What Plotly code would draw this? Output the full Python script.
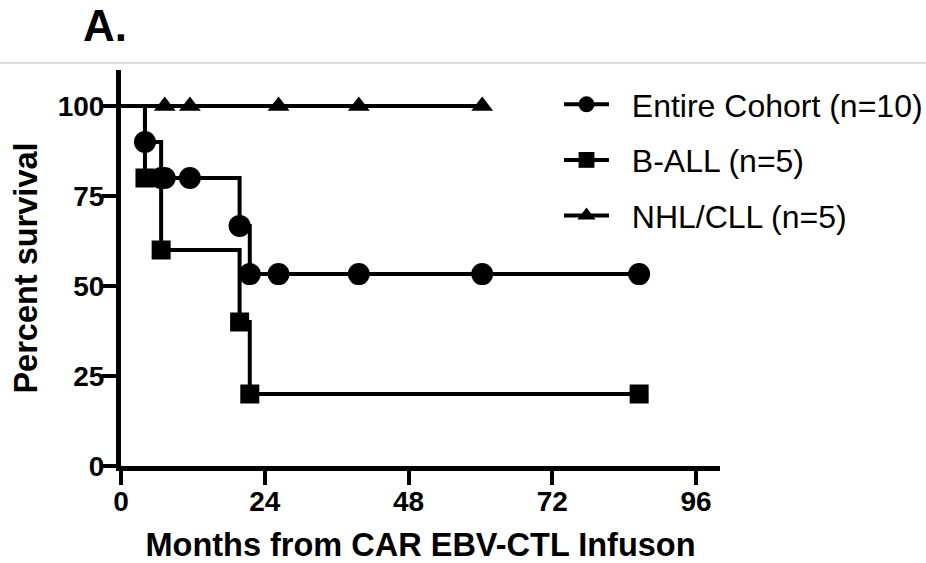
import plotly.graph_objects as go

# ---- data ----
entire_months = [0, 4, 6.7, 7.3, 11.5, 19.8, 21.5, 26.3, 39.7, 60.3, 86.5]
entire_surv = [100, 90, 80, 80, 80, 66.7, 53.3, 53.3, 53.3, 53.3, 53.3]

ball_months = [0, 4, 6.7, 19.8, 21.5, 86.5]
ball_surv = [100, 80, 60, 40, 20, 20]

nhl_months = [0, 7.3, 11.5, 26.3, 39.7, 60.3]
nhl_surv = [100, 100, 100, 100, 100, 100]

series_names = ["Entire Cohort (n=10)", "B-ALL (n=5)", "NHL/CLL (n=5)"]
x_ticks = [0, 24, 48, 72, 96]
y_ticks = [0, 25, 50, 75, 100]

FONT = "Liberation Sans, Arial, Helvetica, sans-serif"
W, H = 926, 563
L, R, T, B = 121, 206, 70, 97
PAD = "\u00a0\u00a0"  # visual gap between legend symbol and label

fig = go.Figure()

def add_series(name, xs, ys, symbol, size, grp):
    sizes = [0] + [size] * (len(xs) - 1)
    fig.add_trace(go.Scatter(
        x=xs, y=ys, name=PAD + name, mode="lines+markers",
        line=dict(color="black", width=4, shape="hv"),
        marker=dict(symbol=symbol, size=sizes, color="black", opacity=1,
                    line=dict(width=0)),
        legendgroup=grp, cliponaxis=False,
    ))

add_series(series_names[0], entire_months, entire_surv, "circle", 22, "a")
add_series(series_names[1], ball_months, ball_surv, "square", 19, "b")
add_series(series_names[2], nhl_months, nhl_surv, "triangle-up", 19, "c")

axis_common = dict(
    showgrid=False, zeroline=False, showline=True, linecolor="black", linewidth=5,
    ticks="outside", ticklen=14, tickwidth=4, tickcolor="black",
    ticklabelstandoff=-8,
    tickfont=dict(family=FONT, size=28, color="black", weight="bold"),
)

fig.update_xaxes(range=[0, 100], tickvals=x_ticks, ticktext=[str(v) for v in x_ticks],
                 title=dict(text="<b>Months from CAR EBV-CTL Infuson</b>",
                            font=dict(family=FONT, size=32.5, color="black"), standoff=19),
                 **axis_common)
fig.update_yaxes(range=[0, 110], tickvals=y_ticks, ticktext=[str(v) for v in y_ticks],
                 title=dict(text="<b>Percent survival</b>",
                            font=dict(family=FONT, size=32.5, color="black"), standoff=12),
                 **axis_common)

pw = W - L - R
ph = H - T - B

fig.add_shape(type="line", xref="paper", yref="paper",
              x0=-L / pw, x1=(W - L) / pw, y0=(H - B - 63) / ph, y1=(H - B - 63) / ph,
              line=dict(color="#cfcfcf", width=1.5))

fig.add_annotation(text="<b>A.</b>", xref="paper", yref="paper",
                   x=(81 - L) / pw, y=(H - B - 25) / ph, xanchor="left", yanchor="middle",
                   showarrow=False, font=dict(family=FONT, size=44, color="black"))

fig.update_layout(
    width=W, height=H,
    margin=dict(l=L, r=R, t=T, b=B, autoexpand=False),
    paper_bgcolor="white", plot_bgcolor="white",
    font=dict(family=FONT, color="black"),
    showlegend=True,
    legend=dict(
        xref="container", yref="container",
        x=559 / W, y=1 - 77 / H, xanchor="left", yanchor="top",
        font=dict(family=FONT, size=32, color="black"),
        bgcolor="rgba(0,0,0,0)", itemwidth=45, tracegroupgap=11,
    ),
)

fig.write_html("out.html", config={"displayModeBar": False},
               post_script="document.body.style.margin='0';")
